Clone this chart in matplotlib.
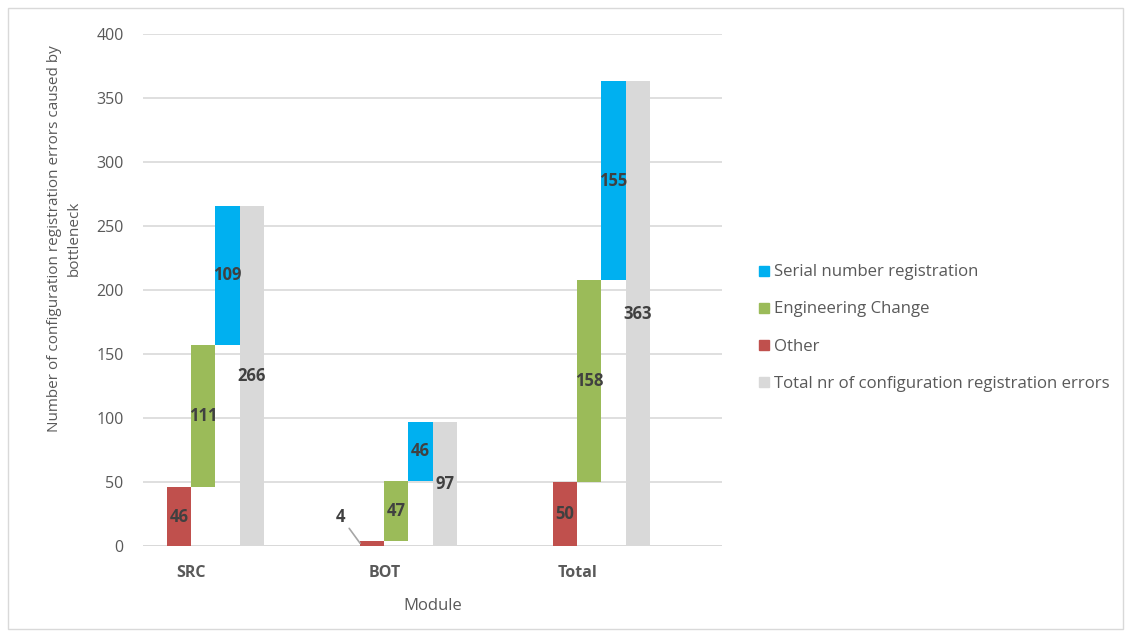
import matplotlib
matplotlib.use("Agg")
import matplotlib.pyplot as plt
from matplotlib.lines import Line2D
from matplotlib.patches import Rectangle

# Error counts per module, stacked as a waterfall
modules = ["SRC", "BOT", "Total"]
other = [46, 4, 50]
engineering_change = [111, 47, 158]
serial_number = [109, 46, 155]
total_errors = [266, 97, 363]

series_names = ["Serial number registration", "Engineering Change", "Other",
                "Total nr of configuration registration errors"]
c_red, c_green, c_blue, c_grey = "#C0504D", "#9BBB59", "#00B0F0", "#D9D9D9"
text_grey = "#595959"
label_col = "#404040"

plt.rcParams["font.family"] = ["Open Sans", "DejaVu Sans"]

fig = plt.figure(figsize=(11.31, 6.37), dpi=100)
ax = fig.add_axes([143 / 1131, 1 - 546 / 637, (722 - 143) / 1131, (546 - 34) / 637])

x = list(range(len(modules)))
w = 0.125
off = [-0.3125, -0.1875, -0.0625, 0.0625]

base_green = other
base_blue = [o + e for o, e in zip(other, engineering_change)]

ax.bar([i + off[0] for i in x], other, w, color=c_red, zorder=3)
ax.bar([i + off[1] for i in x], engineering_change, w, bottom=base_green, color=c_green, zorder=3)
ax.bar([i + off[2] for i in x], serial_number, w, bottom=base_blue, color=c_blue, zorder=3)
ax.bar([i + off[3] for i in x], total_errors, w, color=c_grey, zorder=3)

lab_kw = dict(ha="center", va="center", fontsize=12, fontweight="bold", color=label_col, zorder=5)
for i in x:
    if other[i] >= 10:
        ax.text(i + off[0], other[i] / 2, f"{other[i]}", **lab_kw)
    else:
        bar_left = i + off[0] - w / 2
        ax.annotate(f"{other[i]}", xy=(bar_left, other[i] / 2 + 0.1),
                    xytext=(bar_left - 0.1, 22.7), textcoords="data",
                    arrowprops=dict(arrowstyle="-", color="#A6A6A6", lw=1.2,
                                    shrinkA=1, shrinkB=0),
                    **lab_kw)
    ax.text(i + off[1], base_green[i] + engineering_change[i] / 2, f"{engineering_change[i]}", **lab_kw)
    ax.text(i + off[2], base_blue[i] + serial_number[i] / 2, f"{serial_number[i]}", **lab_kw)
    ax.text(i + off[3], total_errors[i] / 2, f"{total_errors[i]}", **lab_kw)

ax.set_xlim(-0.5, 2.5)
ax.set_ylim(0, 400)
ax.set_yticks(range(0, 401, 50))
ax.set_xticks([i - 0.25 for i in x])
ax.set_xticklabels(modules, fontweight="bold")
ax.grid(axis="y", color="#D9D9D9", lw=1.2, zorder=0)
for s in ax.spines.values():
    s.set_visible(False)
ax.axhline(0, color="#D9D9D9", lw=1.4, zorder=2)
ax.tick_params(axis="both", length=0, colors=text_grey, labelsize=11.5)
ax.tick_params(axis="y", pad=14)
ax.tick_params(axis="x", pad=14)

ax.set_ylabel("Number of configuration registration errors caused by\nbottleneck",
              fontsize=11, color=text_grey, linespacing=1.45)
ax.yaxis.set_label_coords(-0.106, 0.60)
ax.set_xlabel("Module", fontsize=12, color=text_grey, labelpad=12)

handles = [Line2D([], [], marker="s", ls="", markersize=7, color=c)
           for c in (c_blue, c_green, c_red, c_grey)]
fig.legend(handles, series_names, loc="center left", bbox_to_anchor=(742 / 1131, 1 - 328 / 637),
           frameon=False, fontsize=12.1, labelcolor=text_grey, handletextpad=0.2,
           labelspacing=1.25, handlelength=0.8)

fig.add_artist(Rectangle((8 / 1131, 8 / 637), 1115 / 1131, 621 / 637, transform=fig.transFigure,
                         fill=False, edgecolor="#D9D9D9", lw=1))

fig.savefig("out.png", dpi=100)
